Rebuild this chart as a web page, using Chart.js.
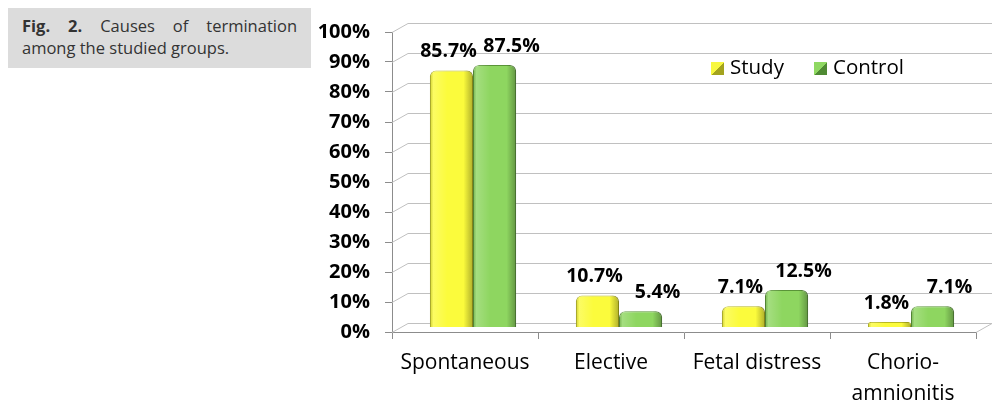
<!DOCTYPE html>
<html>
<head>
<meta charset="utf-8">
<script src="https://cdn.jsdelivr.net/npm/chart.js@4.4.1/dist/chart.umd.min.js"></script>
<style>
  body { margin: 0; background: #fff; width: 1004px; height: 407px; position: relative; overflow: hidden; font-family: "Open Sans", sans-serif; }
  #caption { position: absolute; left: 8px; top: 8px; width: 275px; height: 52px; padding: 7px 14px 1px 14px; background: #dcdcdc; font-size: 16.5px; line-height: 22px; color: #333; }
  #caption .l1 { text-align: justify; text-align-last: justify; }
  #wrap { position: absolute; left: 300px; top: 0; width: 704px; height: 407px; }
  #legend { position: absolute; left: 711px; top: 54px; font-size: 20.5px; color: #000; }
  #legend span.item { position: absolute; white-space: nowrap; line-height: 24px; }
  #legend i { display: inline-block; width: 13px; height: 13px; margin-right: 6px; vertical-align: -1px; }
</style>
</head>
<body>
<div id="caption"><div class="l1"><b>Fig. 2.</b> Causes of termination</div><div>among the studied groups.</div></div>
<div id="wrap"><canvas id="myChart" width="704" height="407"></canvas></div>
<div id="legend">
  <span class="item" style="left:0"><i style="background:linear-gradient(135deg,#f7f740 50%,#a3a31e 50%)"></i>Study</span>
  <span class="item" style="left:103px"><i style="background:linear-gradient(135deg,#8fd862 50%,#4f8a33 50%)"></i>Control</span>
</div>
<script>
// data
const categories = ['Spontaneous', 'Elective', 'Fetal distress', ['Chorio-', 'amnionitis']];
const study = [85.7, 10.7, 7.1, 1.8];
const control = [87.5, 5.4, 12.5, 7.1];
const yTicks = [0, 10, 20, 30, 40, 50, 60, 70, 80, 90, 100];

// depth of the fake 3d box
const DX = 16, DY = 9;

// back wall gridlines, drawn in perspective
const wallPlugin = {
  id: 'wall',
  beforeDatasetsDraw(chart) {
    const c = chart.ctx, y = chart.scales.y, a = chart.chartArea;
    c.save();
    c.strokeStyle = '#c0c0c0';
    c.lineWidth = 1;
    yTicks.forEach(v => {
      const py = Math.round(y.getPixelForValue(v)) + 0.5;
      c.beginPath();
      c.moveTo(a.left, py);
      c.lineTo(a.left + DX, py - DY);
      c.lineTo(a.right + DX, py - DY);
      if (v === 0) c.lineTo(a.right, py);
      c.stroke();
    });
    c.restore();
  }
};

// bars sit half way into the box, plus shading + value labels
const barPlugin = {
  id: 'barShade',
  beforeDatasetsDraw(chart) {
    chart.ctx.save();
    chart.ctx.translate(DX / 2, -DY / 2);
  },
  afterDatasetsDraw(chart) {
    const c = chart.ctx;
    chart.data.datasets.forEach((ds, di) => {
      const meta = chart.getDatasetMeta(di);
      meta.data.forEach((bar, i) => {
        const w = bar.width, l = bar.x - w / 2;
        const g = c.createLinearGradient(l, 0, l + w, 0);
        g.addColorStop(0, 'rgba(0,0,0,0.15)');
        g.addColorStop(0.08, 'rgba(255,255,255,0.2)');
        g.addColorStop(0.4, 'rgba(255,255,255,0)');
        g.addColorStop(0.78, 'rgba(0,0,0,0)');
        g.addColorStop(1, 'rgba(0,0,0,0.3)');
        c.save();
        c.fillStyle = g;
        c.beginPath();
        c.roundRect(l, bar.y, w, bar.base - bar.y, [6, 6, 0, 0]);
        c.fill();
        c.restore();

        c.save();
        c.font = 'bold 19.5px "Open Sans"';
        c.fillStyle = '#000';
        c.textAlign = 'center';
        c.textBaseline = 'middle';
        const off = di === 0 ? -3 : 17;
        c.fillText(ds.data[i].toFixed(1) + '%', bar.x + off, bar.y - 19);
        c.restore();
      });
    });
    c.restore();
  }
};

const ctx = document.getElementById('myChart');

new Chart(ctx, {
  type: 'bar',
  data: {
    labels: categories,
    datasets: [{
      label: 'Study',
      data: study,
      backgroundColor: '#fbfb3c',
      borderColor: '#b8b820',
      borderWidth: 1,
      borderSkipped: 'bottom',
      borderRadius: { topLeft: 6, topRight: 6 }
    }, {
      label: 'Control',
      data: control,
      backgroundColor: '#8ed660',
      borderColor: '#5a9438',
      borderWidth: 1,
      borderSkipped: 'bottom',
      borderRadius: { topLeft: 6, topRight: 6 }
    }]
  },
  options: {
    responsive: false,
    animation: false,
    categoryPercentage: 0.59,
    barPercentage: 1,
    layout: { padding: { top: 32, right: 28, left: 0, bottom: 0 } },
    plugins: {
      legend: { display: false },
      tooltip: { enabled: false }
    },
    scales: {
      x: {
        grid: { display: true, drawOnChartArea: false, tickLength: 7, color: '#8c8c8c', offset: true },
        border: { display: true, color: '#8c8c8c' },
        ticks: { color: '#000', font: { family: 'Open Sans', size: 21, lineHeight: 1.48 }, padding: 8, maxRotation: 0, autoSkip: false },
        afterFit: s => { s.height = 75; }
      },
      y: {
        min: 0,
        max: 100,
        grid: { display: true, drawOnChartArea: false, tickLength: 7, color: '#8c8c8c' },
        border: { display: true, color: '#8c8c8c' },
        ticks: {
          stepSize: 10,
          color: '#000',
          padding: 15,
          font: { family: 'Open Sans', size: 20, weight: 'bold' },
          callback: v => v + '%'
        },
        afterFit: s => { s.width = 92; }
      }
    }
  },
  plugins: [wallPlugin, barPlugin]
});
</script>
</body>
</html>
